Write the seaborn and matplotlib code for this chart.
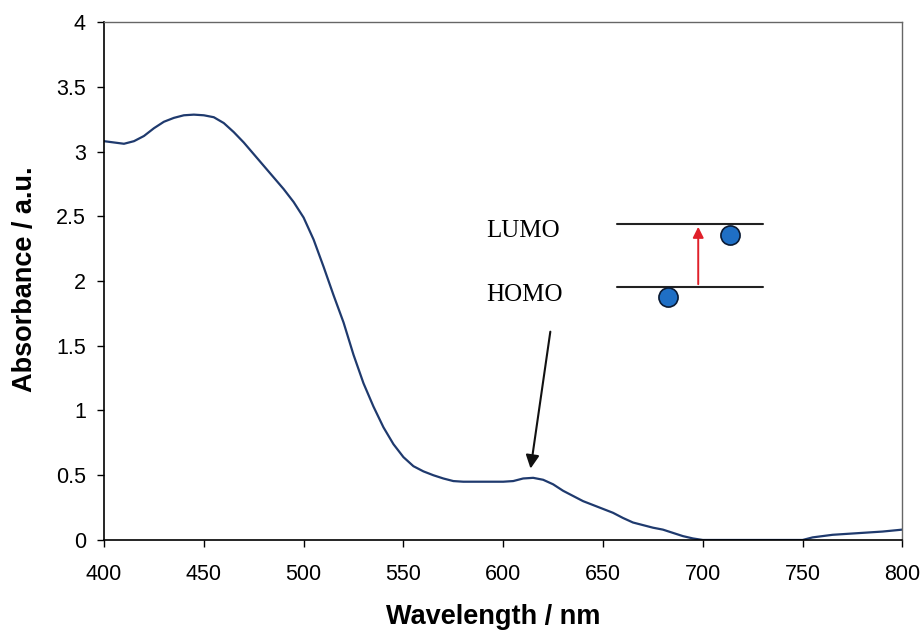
import numpy as np
import pandas as pd
import matplotlib
matplotlib.use("Agg")
import matplotlib.pyplot as plt
import seaborn as sns

wavelength = [400, 405, 410, 415, 420, 425, 430, 435, 440, 445, 450, 455, 460, 465, 470,
              475, 480, 485, 490, 495, 500, 505, 510, 515, 520, 525, 530, 535, 540, 545,
              550, 555, 560, 565, 570, 575, 580, 590, 600, 605, 610, 615, 620, 625, 630,
              635, 640, 645, 650, 655, 660, 665, 670, 675, 680, 685, 690, 695, 700, 710,
              720, 730, 740, 750, 755, 760, 765, 770, 780, 790, 800]
absorbance = [3.08, 3.07, 3.06, 3.08, 3.12, 3.18, 3.23, 3.26, 3.28, 3.285, 3.28, 3.265, 3.22, 3.15, 3.07,
              2.98, 2.89, 2.80, 2.71, 2.61, 2.49, 2.32, 2.11, 1.89, 1.68, 1.43, 1.21, 1.03, 0.87, 0.74,
              0.64, 0.57, 0.53, 0.50, 0.475, 0.455, 0.45, 0.45, 0.45, 0.455, 0.475, 0.48, 0.465, 0.43, 0.38,
              0.34, 0.30, 0.27, 0.24, 0.21, 0.17, 0.135, 0.115, 0.095, 0.08, 0.055, 0.03, 0.012, 0.0, 0.0,
              0.0, 0.0, 0.0, 0.0, 0.02, 0.03, 0.04, 0.045, 0.055, 0.065, 0.08]

x_ticks = [400, 450, 500, 550, 600, 650, 700, 750, 800]
y_ticks = [0, 0.5, 1, 1.5, 2, 2.5, 3, 3.5, 4]
y_tick_labels = ["0", "0.5", "1", "1.5", "2", "2.5", "3", "3.5", "4"]

df = pd.DataFrame({"Wavelength": wavelength, "Absorbance": absorbance})

sns.set_style("ticks")
plt.rcParams["font.family"] = ["Liberation Sans", "DejaVu Sans"]
plt.rcParams["text.color"] = "black"
plt.rcParams["xtick.color"] = "black"
plt.rcParams["ytick.color"] = "black"
plt.rcParams["axes.labelcolor"] = "black"

fig = plt.figure(figsize=(9.23, 6.32), dpi=100)
ax = fig.add_axes([0.1127, 0.1456, 0.865, 0.8195])

sns.lineplot(data=df, x="Wavelength", y="Absorbance", ax=ax, color="#1f3a6e", linewidth=1.6)

ax.set_xlim(400, 800)
ax.set_ylim(0, 4)
ax.set_xticks(x_ticks)
ax.set_xticklabels([str(t) for t in x_ticks])
ax.set_yticks(y_ticks)
ax.set_yticklabels(y_tick_labels)
ax.tick_params(axis="both", direction="out", length=5, width=1.0, labelsize=15.5,
               colors="black")
ax.tick_params(axis="x", pad=12)
ax.tick_params(axis="y", pad=8)

for s in ["left", "bottom"]:
    ax.spines[s].set_color("black")
    ax.spines[s].set_linewidth(1.2)
for s in ["top", "right"]:
    ax.spines[s].set_visible(True)
    ax.spines[s].set_color("#666666")
    ax.spines[s].set_linewidth(1.0)

ax.set_xlabel("Wavelength / nm", fontsize=19.5, fontweight="bold", va="center", ha="center")
ax.xaxis.set_label_coords(0.488, -0.149)
ax.set_ylabel("Absorbance / a.u.", fontsize=19.5, fontweight="bold", va="center", ha="center")
ax.yaxis.set_label_coords(-0.099, 0.504)

# energy level diagram inset
serif = ["Liberation Serif", "DejaVu Serif"]
ax.text(591.5, 2.39, "LUMO", fontsize=18, family=serif, va="center", ha="left")
ax.text(591.5, 1.89, "HOMO", fontsize=18, family=serif, va="center", ha="left")
ax.plot([657, 730], [2.44, 2.44], color="#222222", lw=1.5)
ax.plot([657, 730], [1.954, 1.954], color="#222222", lw=1.5)
ax.annotate("", xy=(697.7, 2.44), xytext=(697.7, 1.954),
            arrowprops=dict(arrowstyle="-|>", color="#e0202a", lw=1.4, mutation_scale=16))
ax.scatter([713.8, 682.6], [2.355, 1.876], s=190, color="#1f6fc5", edgecolor="#0a1a33",
           linewidth=1.2, zorder=5)
ax.annotate("", xy=(613.5, 0.53), xytext=(623.8, 1.63),
            arrowprops=dict(arrowstyle="-|>", color="#111111", lw=1.5, mutation_scale=20))

fig.savefig("out.png", dpi=100)
